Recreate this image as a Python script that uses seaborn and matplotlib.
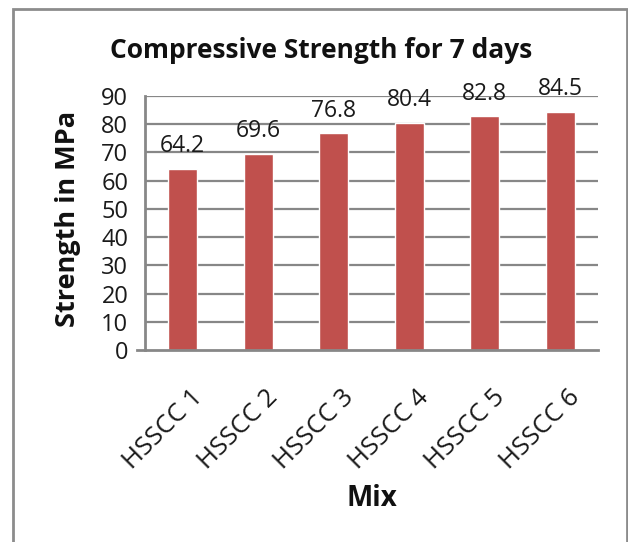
import matplotlib
matplotlib.use("Agg")
import matplotlib.pyplot as plt
import matplotlib.transforms as mtransforms
from matplotlib.patches import Rectangle
import seaborn as sns
import pandas as pd

mixes = ["HSSCC 1", "HSSCC 2", "HSSCC 3", "HSSCC 4", "HSSCC 5", "HSSCC 6"]
strength = [64.2, 69.6, 76.8, 80.4, 82.8, 84.5]
y_ticks = [0, 10, 20, 30, 40, 50, 60, 70, 80, 90]

sns.set_theme(style="white")
plt.rcParams["font.family"] = ["Open Sans", "DejaVu Sans"]

df = pd.DataFrame({"Mix": mixes, "Strength": strength})

fig = plt.figure(figsize=(6.28, 5.42), dpi=100)
ax = fig.add_axes([145 / 628, 1 - 350 / 542, 453 / 628, 254 / 542])

grid_col = "#878787"
txt_col = "#1a1a1a"
sns.barplot(data=df, x="Mix", y="Strength", color="#C0504D", saturation=1,
            width=0.385, ax=ax, zorder=3)

ax.set_ylim(0, 90)
ax.set_xlim(-0.5, len(mixes) - 0.5)
ax.set_yticks(y_ticks)
ax.set_yticklabels([str(t) for t in y_ticks], fontsize=17, color=txt_col)
for t in y_ticks[1:]:
    ax.axhline(t, color=grid_col, lw=1.6, zorder=1)
ax.tick_params(axis="y", direction="out", length=8, width=1.6, color=grid_col, pad=4)
ax.tick_params(axis="x", length=0, pad=0)

for side in ["top", "right"]:
    ax.spines[side].set_visible(False)
for side in ["left", "bottom"]:
    ax.spines[side].set_color(grid_col)
    ax.spines[side].set_linewidth(2)
ax.spines["bottom"].set_bounds(-0.5 - 8 / 75.5, len(mixes) - 0.5)
ax.spines["bottom"].set_zorder(4)

# rotated category labels
offset = mtransforms.ScaledTranslation(25 / 100, -35 / 100, fig.dpi_scale_trans)
ax.set_xticks(range(len(mixes)))
ax.set_xticklabels(mixes, rotation=45, ha="right", va="top", fontsize=18.5,
                   color=txt_col)
for lbl in ax.get_xticklabels():
    lbl.set_transform(lbl.get_transform() + offset)

# value labels above bars
for i, v in enumerate(strength):
    ax.annotate(f"{v}", (i, v), xytext=(0, 12), textcoords="offset points",
                ha="center", va="baseline", fontsize=16.5, color=txt_col,
                zorder=5)

ax.set_xlabel("")
ax.set_ylabel("")
fig.text(372 / 628, 1 - 498 / 542, "Mix", ha="center", va="center",
         fontsize=20, fontweight="bold", color="#111111")
fig.text(68 / 628, 1 - 219 / 542, "Strength in MPa", ha="center", va="center",
         rotation=90, fontsize=19.5, fontweight="bold", color="#111111")
fig.text(321 / 628, 1 - 50 / 542, "Compressive Strength for 7 days",
         ha="center", va="center", fontsize=19, fontweight="bold",
         color="#111111")

# chart frame
fig.patches.append(Rectangle((13 / 628, -0.1), (627 - 13) / 628, 1 - 9 / 542 + 0.1,
                             transform=fig.transFigure, fill=False,
                             edgecolor="#8c8c8c", lw=2))

fig.savefig("out.png", dpi=100)
